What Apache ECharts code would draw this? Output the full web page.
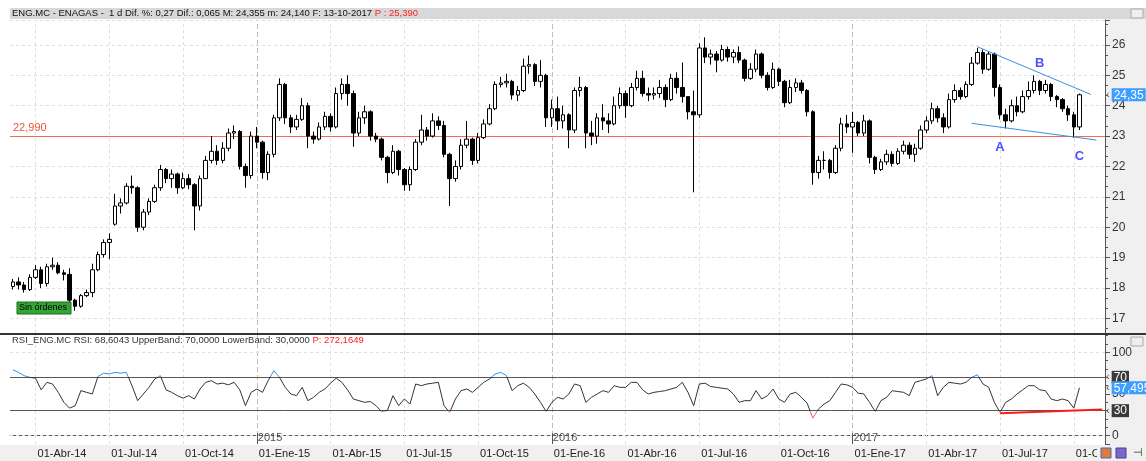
<!DOCTYPE html>
<html>
<head>
<meta charset="utf-8">
<script src="https://cdn.jsdelivr.net/npm/echarts@6/dist/echarts.min.js"></script>
<style>
  html, body { margin: 0; padding: 0; background: #fff; }
  #grafico { width: 1146px; height: 461px; }
</style>
</head>
<body>
<div id="grafico"></div>
<script>
// Velas semanales de ENAGAS [apertura, cierre, mínimo, máximo]
const velas2014 = [
  [18.05, 18.2, 17.95, 18.3], [18.2, 18.1, 17.95, 18.35], [18.1, 17.95, 17.85, 18.2], [17.95, 18.35, 17.9, 18.45],
  [18.35, 18.6, 18.3, 18.75], [18.6, 18.15, 18.0, 18.7], [18.15, 18.7, 18.05, 18.8], [18.7, 18.75, 18.6, 19.0],
  [18.75, 18.5, 18.45, 18.85], [18.5, 18.45, 18.25, 18.6], [18.45, 17.6, 17.5, 18.65], [17.6, 17.4, 17.25, 17.65],
  [17.4, 17.75, 17.35, 17.8], [17.75, 17.85, 17.7, 17.95], [17.85, 18.6, 17.7, 18.8], [18.6, 19.1, 18.55, 19.2],
  [19.1, 19.5, 19.0, 19.6], [19.5, 19.6, 18.95, 19.8], [20.1, 20.7, 20.05, 21.1], [20.7, 20.8, 20.45, 20.95],
  [20.8, 21.35, 20.75, 21.45], [21.35, 21.3, 21.1, 21.7], [21.3, 20.0, 19.85, 21.35], [20.0, 20.5, 19.9, 20.6],
  [20.5, 20.85, 20.4, 20.95], [20.85, 21.3, 20.8, 21.4], [21.3, 21.9, 21.2, 22.05], [21.9, 21.6, 21.45, 21.95],
  [21.6, 21.75, 21.3, 21.9], [21.75, 21.3, 21.1, 21.8], [21.3, 21.6, 21.25, 21.8], [21.6, 21.4, 21.25, 21.75],
  [21.4, 20.7, 19.9, 21.45], [20.7, 21.6, 20.55, 21.7], [21.6, 22.2, 21.6, 22.35], [22.2, 22.5, 22.1, 23.0],
  [22.5, 22.2, 22.05, 22.7], [22.2, 22.6, 22.1, 22.8], [22.6, 23.1, 22.5, 23.25], [23.1, 23.15, 22.9, 23.35],
  [23.15, 22.0, 21.9, 23.2], [22.0, 21.7, 21.3, 22.1], [21.7, 23.0, 21.6, 23.15], [23.0, 22.8, 22.6, 23.3]
];
const velas2015 = [
  [22.8, 21.8, 21.6, 22.85], [21.8, 22.4, 21.55, 22.5], [22.4, 23.6, 22.3, 23.7], [23.6, 24.7, 23.5, 24.9],
  [24.7, 23.6, 23.4, 24.75], [23.6, 23.3, 23.1, 23.7], [23.3, 23.55, 23.2, 23.7], [23.55, 24.0, 23.5, 24.25],
  [24.0, 23.0, 22.6, 24.1], [23.0, 22.9, 22.75, 23.15], [22.9, 23.3, 22.85, 23.45], [23.3, 23.65, 23.2, 23.8],
  [23.65, 23.3, 23.15, 23.75], [23.3, 24.4, 23.25, 24.6], [24.4, 24.7, 24.2, 24.9], [24.7, 24.4, 24.0, 25.0],
  [24.4, 23.1, 22.65, 24.5], [23.1, 23.6, 23.0, 23.8], [23.6, 23.8, 23.4, 24.0], [23.8, 23.0, 22.85, 23.85],
  [23.0, 22.9, 22.8, 23.1], [22.9, 22.3, 22.2, 22.95], [22.3, 21.8, 21.45, 22.35], [21.8, 22.5, 21.75, 22.7],
  [22.5, 21.9, 21.7, 22.55], [21.9, 21.4, 21.2, 21.95], [21.4, 21.9, 21.2, 22.0], [21.9, 22.8, 21.85, 22.9],
  [22.8, 23.2, 22.7, 23.7], [23.2, 23.0, 22.85, 23.3], [23.0, 23.5, 22.95, 23.75], [23.5, 23.35, 23.2, 23.65],
  [23.35, 22.4, 22.3, 23.5], [22.4, 21.6, 20.7, 22.45], [21.6, 22.0, 21.5, 22.2], [22.0, 22.7, 21.9, 22.9],
  [22.7, 22.9, 22.6, 23.5], [22.9, 22.2, 22.05, 22.95], [22.2, 22.95, 22.1, 23.1], [22.95, 23.4, 22.9, 23.55],
  [23.4, 23.9, 23.35, 24.05], [23.9, 24.7, 23.85, 24.8], [24.7, 24.75, 24.6, 24.95], [24.75, 24.8, 24.6, 25.05],
  [24.8, 24.35, 24.2, 24.85], [24.35, 24.5, 24.15, 24.65], [24.5, 25.3, 24.45, 25.55], [25.3, 25.35, 25.05, 25.65],
  [25.35, 24.8, 24.65, 25.4], [24.8, 25.0, 24.6, 25.5], [25.0, 23.6, 23.3, 25.05], [23.6, 23.9, 23.3, 24.2]
];
const velas2016 = [
  [23.9, 23.5, 23.2, 24.3], [23.5, 23.7, 23.25, 24.0], [23.7, 23.2, 22.6, 23.75], [23.2, 24.5, 23.1, 24.6],
  [24.5, 24.6, 24.3, 24.95], [24.6, 23.1, 22.6, 24.65], [23.1, 23.0, 22.7, 23.5], [23.0, 23.6, 22.75, 23.75],
  [23.6, 23.5, 23.2, 24.05], [23.5, 23.4, 23.1, 23.75], [23.4, 24.0, 23.35, 24.3], [24.0, 24.4, 23.9, 24.6],
  [24.4, 24.0, 23.6, 24.5], [24.0, 24.6, 23.95, 24.75], [24.6, 24.9, 24.5, 25.15], [24.9, 24.4, 24.3, 25.15],
  [24.4, 24.35, 24.15, 24.6], [24.35, 24.4, 24.2, 24.6], [24.4, 24.6, 24.25, 24.85], [24.6, 24.2, 23.95, 24.7],
  [24.2, 24.9, 24.15, 25.05], [24.9, 24.6, 24.4, 25.1], [24.6, 24.3, 24.1, 25.42], [24.3, 23.8, 23.55, 24.3],
  [23.8, 23.7, 21.15, 24.5], [23.7, 25.9, 23.6, 26.05], [25.9, 25.6, 25.4, 26.25], [25.6, 25.7, 25.35, 25.85],
  [25.7, 25.5, 25.1, 25.8], [25.5, 25.85, 25.45, 26.0], [25.85, 25.6, 25.45, 25.95], [25.6, 25.75, 25.4, 25.85],
  [25.75, 25.5, 25.4, 25.95], [25.5, 24.9, 24.8, 25.55], [24.9, 25.2, 24.85, 25.4], [25.2, 25.7, 25.1, 25.85],
  [25.7, 25.0, 24.9, 25.75], [25.0, 24.6, 24.5, 25.1], [24.6, 25.2, 24.55, 25.42], [25.2, 24.8, 24.65, 25.25],
  [24.8, 24.1, 23.95, 24.85], [24.1, 24.6, 24.05, 24.85], [24.6, 24.75, 24.45, 24.9], [24.75, 24.5, 24.4, 24.85],
  [24.5, 23.8, 23.65, 24.55], [23.8, 21.8, 21.4, 23.85], [21.8, 22.2, 21.6, 22.35], [22.2, 22.2, 21.9, 22.5],
  [22.2, 21.8, 21.6, 22.25], [21.8, 22.6, 21.75, 22.7], [22.6, 23.4, 22.5, 23.6], [23.4, 23.3, 23.1, 23.7]
];
const velas2017 = [
  [23.3, 23.45, 22.45, 23.8], [23.45, 23.1, 23.0, 23.5], [23.1, 23.5, 23.0, 23.7], [23.5, 22.3, 22.1, 23.55],
  [22.3, 21.9, 21.75, 22.35], [21.9, 22.15, 21.85, 22.25], [22.15, 22.4, 22.05, 22.55], [22.4, 22.1, 22.0, 22.5],
  [22.1, 22.5, 22.05, 22.6], [22.5, 22.7, 22.4, 22.85], [22.7, 22.4, 22.25, 22.8], [22.4, 22.6, 22.15, 22.75],
  [22.6, 23.2, 22.55, 23.35], [23.2, 23.5, 23.1, 23.65], [23.5, 23.9, 23.4, 24.1], [23.9, 23.6, 23.45, 24.0],
  [23.6, 23.3, 23.1, 23.75], [23.3, 24.2, 23.25, 24.4], [24.2, 24.5, 24.1, 24.7], [24.5, 24.3, 24.2, 24.6],
  [24.3, 24.7, 24.25, 24.8], [24.7, 25.4, 24.65, 25.6], [25.4, 25.75, 25.35, 25.9], [25.75, 25.2, 25.05, 25.85],
  [25.2, 25.7, 25.15, 25.8], [25.7, 24.6, 24.3, 25.75], [24.6, 23.7, 23.55, 24.7], [23.7, 23.5, 23.25, 23.9],
  [23.5, 24.0, 23.45, 24.2], [24.0, 23.8, 23.65, 24.3], [23.8, 24.3, 23.75, 24.5], [24.3, 24.5, 24.2, 24.8],
  [24.5, 24.8, 24.4, 25.0], [24.8, 24.5, 24.35, 24.85], [24.5, 24.7, 24.4, 24.85], [24.7, 24.3, 24.15, 24.75],
  [24.3, 24.2, 23.95, 24.35], [24.2, 23.9, 23.8, 24.25], [23.9, 23.7, 23.5, 24.0], [23.7, 23.3, 22.95, 23.8],
  [23.3, 24.36, 23.2, 24.4]
];

// RSI semanal
const rsi2014 = [79, 76, 72, 70, 69, 55, 64, 62, 52, 40, 33, 36, 54, 52, 50, 71, 75, 74, 76, 75, 76, 60, 42, 50, 58, 68, 72, 55, 52, 48, 45, 48, 44, 56, 64, 66, 62, 63, 61, 64, 55, 36, 52, 56];
const rsi2015 = [52, 66, 78, 70, 58, 50, 48, 58, 42, 46, 52, 56, 63, 69, 64, 55, 44, 42, 40, 41, 36, 29, 30, 48, 36, 44, 38, 62, 60, 62, 63, 64, 36, 28, 44, 54, 56, 52, 58, 64, 68, 74, 76, 72, 54, 60, 63, 58, 50, 40, 29, 40];
const rsi2016 = [46, 44, 50, 62, 60, 40, 46, 50, 54, 52, 60, 58, 58, 64, 64, 55, 50, 52, 53, 54, 56, 58, 64, 52, 36, 62, 63, 59, 58, 57, 56, 50, 40, 42, 42, 54, 44, 48, 56, 44, 40, 50, 52, 46, 39, 21, 32, 38, 42, 52, 62, 61];
const rsi2017 = [58, 51, 50, 40, 29, 42, 46, 54, 53, 52, 48, 64, 66, 68, 72, 48, 58, 64, 63, 62, 64, 70, 73, 62, 58, 40, 28, 40, 44, 50, 55, 60, 60, 55, 54, 44, 42, 44, 42, 33, 57.5];

// Etiquetas del eje temporal y años
const etiquetasEje = ['01-Abr-14', '01-Jul-14', '01-Oct-14', '01-Ene-15', '01-Abr-15', '01-Jul-15', '01-Oct-15',
  '01-Ene-16', '01-Abr-16', '01-Jul-16', '01-Oct-16', '01-Ene-17', '01-Abr-17', '01-Jul-17', '01-Oct-17'];
const etiquetasAnio = ['2015', '2016', '2017'];

// Niveles y líneas dibujadas (índice de semana, valor)
const soporte = 22.99;
const ultimoPrecio = 24.355;
const ultimoRsi = 57.495;
const bandasRsi = [70, 30];
const tendenciaSup = [[170, 25.94], [190, 24.37]];
const tendenciaInf = [[169, 23.42], [191, 22.87]];
const tendenciaRsi = [[174, 27], [192, 31.5]];
const puntosABC = [[174, 22.63, 'A'], [181, 25.39, 'B'], [188, 22.34, 'C']];

const FUENTE = '"Liberation Sans", Arial, sans-serif';
const DIA = 86400000;
const velas = velas2014.concat(velas2015, velas2016, velas2017);
const rsi = rsi2014.concat(rsi2015, rsi2016, rsi2017);

// Semanas (lunes) desde el 3-3-2014, con 4 semanas vacías al final
const inicio = Date.UTC(2014, 2, 3);
const semanas = [];
for (let k = 0; k < velas.length + 4; k++) {
  semanas.push(new Date(inicio + k * 7 * DIA).toISOString().slice(0, 10));
}

const mesesEs = { Ene: 0, Abr: 3, Jul: 6, Oct: 9 };
function indiceSemana(etiqueta) {
  const [d, m, a] = etiqueta.split('-');
  let t = Date.UTC(2000 + Number(a), mesesEs[m], Number(d));
  while ([0, 6].includes(new Date(t).getUTCDay())) t += DIA;
  return Math.floor((t - inicio) / (7 * DIA));
}
const etiquetaPorIndice = {};
etiquetasEje.forEach(e => { etiquetaPorIndice[indiceSemana(e)] = e; });
const indicesAnio = etiquetasAnio.map(a => indiceSemana('01-Ene-' + a.slice(2)));
const esEtiqueta = (i) => etiquetaPorIndice[i] !== undefined;

const lineasVerticales = Object.keys(etiquetaPorIndice).map(Number).map(i => ({
  xAxis: semanas[i],
  lineStyle: indicesAnio.includes(i)
    ? { color: '#bdbdbd', type: [5, 3], width: 1 }
    : { color: '#dedede', type: [3, 3], width: 1 }
}));

const pares = (lista) => lista.map(p => [semanas[p[0]], p[1]]);

// Etiqueta con flecha y caja de color, al final de una línea invisible
function etiquetaEje(texto, fondo) {
  return {
    show: true, position: 'end', distance: 1, formatter: '{f|‹}{c|' + texto + '}',
    rich: {
      f: { color: '#555', fontSize: 11, padding: [0, 2, 0, 0] },
      c: { color: '#fff', backgroundColor: fondo, fontSize: 12, padding: [1, 2, 0, 2] }
    }
  };
}

const grafico = echarts.init(document.getElementById('grafico'));

const opcion = {
  animation: false,
  backgroundColor: '#fff',
  textStyle: { fontFamily: FUENTE },
  title: [
    {
      left: 12, top: 8, padding: 0,
      text: '{a|ENG.MC - ENAGAS -  1 d Dif. %: 0,27 Dif.: 0,065 M: 24,355 m: 24,140 F: 13-10-2017 }{b|P : 25,390}',
      textStyle: { fontWeight: 'normal', rich: {
        a: { fontSize: 9.5, color: '#111', fontWeight: 'normal', fontFamily: FUENTE },
        b: { fontSize: 9.5, color: '#ff2020', fontWeight: 'normal', fontFamily: FUENTE }
      } }
    },
    {
      left: 12, top: 335, padding: 0,
      text: '{a|RSI_ENG.MC RSI: 68,6043 UpperBand: 70,0000 LowerBand: 30,0000 }{b|P: 272,1649}',
      textStyle: { fontWeight: 'normal', rich: {
        a: { fontSize: 9.5, color: '#333', fontWeight: 'normal', fontFamily: FUENTE },
        b: { fontSize: 9.5, color: '#ff2020', fontWeight: 'normal', fontFamily: FUENTE }
      } }
    }
  ],
  grid: [
    { left: 10, right: 41, top: 20, bottom: 128 },
    { left: 10, right: 41, top: 334, bottom: 17 }
  ],
  xAxis: [
    {
      type: 'category', gridIndex: 0, data: semanas, boundaryGap: true,
      axisLine: { show: false }, axisTick: { show: false }, axisLabel: { show: false }, splitLine: { show: false }
    },
    {
      type: 'category', gridIndex: 1, data: semanas, boundaryGap: true,
      axisLine: { lineStyle: { color: '#555' } },
      axisTick: { alignWithLabel: true, interval: esEtiqueta, length: 7, lineStyle: { color: '#555' } },
      axisLabel: {
        interval: esEtiqueta, formatter: (v, i) => etiquetaPorIndice[i] || '',
        align: 'left', margin: 4, padding: [0, 0, 0, 2], color: '#222', fontSize: 11, fontFamily: FUENTE
      },
      splitLine: { show: false }
    }
  ],
  yAxis: [
    {
      type: 'value', gridIndex: 0, position: 'right', min: 16.52, max: 26.82, splitNumber: 10,
      axisLine: { show: true, lineStyle: { color: '#555' } },
      axisTick: { show: true, length: 5, lineStyle: { color: '#555' } },
      minorTick: { show: true, splitNumber: 3, length: 3, lineStyle: { color: '#555' } },
      axisLabel: { showMinLabel: false, showMaxLabel: false, color: '#333', fontSize: 12, margin: 7, fontFamily: FUENTE },
      splitLine: { show: true, lineStyle: { color: '#dedede', type: [3, 3] } }
    },
    {
      type: 'value', gridIndex: 1, position: 'right', min: -10, max: 122, splitNumber: 3,
      axisLine: { show: true, lineStyle: { color: '#555' } },
      axisTick: { show: true, length: 5, lineStyle: { color: '#555' } },
      minorTick: { show: true, splitNumber: 5, length: 3, lineStyle: { color: '#555' } },
      axisLabel: { showMinLabel: false, showMaxLabel: false, color: '#333', fontSize: 12, margin: 7, fontFamily: FUENTE },
      splitLine: { show: false }
    }
  ],
  visualMap: {
    show: false, type: 'piecewise', seriesIndex: 4, dimension: 1,
    pieces: [
      { gt: 70, color: '#2f8ff0' },
      { lt: 30, color: '#f06060' },
      { gte: 30, lte: 70, color: '#333' }
    ]
  },
  series: [
    {
      type: 'candlestick', xAxisIndex: 0, yAxisIndex: 0, data: velas, barWidth: 4,
      itemStyle: { color: '#fff', color0: '#000', borderColor: '#000', borderColor0: '#000', borderWidth: 1 },
      markLine: {
        silent: true, symbol: 'none', z: 1,
        label: { show: false },
        data: lineasVerticales.concat([
          {
            yAxis: soporte, lineStyle: { color: '#f36e50', type: 'solid', width: 1 },
            label: { show: true, position: 'insideStartTop', formatter: '22,990', color: '#e8553a', fontSize: 11, distance: 3 }
          },
          {
            yAxis: ultimoPrecio, lineStyle: { color: 'rgba(0,0,0,0)', width: 0 },
            label: etiquetaEje('24,35', '#3d9eff')
          }
        ])
      }
    },
    {
      type: 'line', xAxisIndex: 0, yAxisIndex: 0, data: pares(tendenciaSup), showSymbol: false, silent: true,
      lineStyle: { color: '#3b8fe0', width: 1 }
    },
    {
      type: 'line', xAxisIndex: 0, yAxisIndex: 0, data: pares(tendenciaInf), showSymbol: false, silent: true,
      lineStyle: { color: '#3b8fe0', width: 1 }
    },
    {
      type: 'scatter', xAxisIndex: 0, yAxisIndex: 0, symbolSize: 0, silent: true,
      data: puntosABC.map(p => [semanas[p[0]], p[1], p[2]]),
      label: { show: true, position: 'inside', formatter: (p) => p.data[2], color: '#2323ff', fontSize: 13, fontWeight: 'bold' }
    },
    {
      type: 'line', xAxisIndex: 1, yAxisIndex: 1, data: rsi, showSymbol: false, silent: true,
      lineStyle: { width: 1 },
      markLine: {
        silent: true, symbol: 'none', z: 1,
        label: { show: false },
        data: lineasVerticales.concat(
          [0, 100].map(v => ({ yAxis: v, lineStyle: { color: '#dedede', type: [3, 3], width: 1 } })),
          bandasRsi.map(v => ({
            yAxis: v, lineStyle: { color: '#555', type: 'solid', width: 1 },
            label: etiquetaEje(String(v), '#3a3a3a')
          })),
          [{
            yAxis: ultimoRsi, lineStyle: { color: 'rgba(0,0,0,0)', width: 0 },
            label: etiquetaEje('57,495', '#3d9eff')
          }],
          indicesAnio.map(i => [
            { coord: [semanas[i], -10], lineStyle: { color: '#555', type: 'solid', width: 1 } },
            { coord: [semanas[i], 3] }
          ])
        )
      }
    },
    {
      type: 'line', xAxisIndex: 1, yAxisIndex: 1, data: pares(tendenciaRsi), showSymbol: false, silent: true,
      lineStyle: { color: '#ff1a1a', width: 2 }
    },
    {
      type: 'scatter', xAxisIndex: 1, yAxisIndex: 1, symbolSize: 0, silent: true,
      data: indicesAnio.map((i, k) => [semanas[i], 0, etiquetasAnio[k]]),
      label: { show: true, position: 'right', distance: 1, offset: [0, 2], formatter: (p) => p.data[2], color: '#222', fontSize: 11 }
    }
  ],
  graphic: [
    { type: 'rect', z: -5, shape: { x: 10, y: 8, width: 1136, height: 11 }, style: { fill: '#d8d8d8' } },
    { type: 'rect', z: -5, shape: { x: 1105, y: 19, width: 41, height: 442 }, style: { fill: '#f0f0f0' } },
    { type: 'rect', z: -5, shape: { x: 0, y: 445, width: 1146, height: 16 }, style: { fill: '#f0f0f0' } },
    { type: 'rect', z: 50, shape: { x: 0, y: 333, width: 1146, height: 2 }, style: { fill: '#333' } },
    { type: 'rect', z: 50, shape: { x: 1131, y: 9, width: 12, height: 9 }, style: { fill: '#eee', stroke: '#aaa', lineWidth: 1 } },
    { type: 'rect', z: 50, shape: { x: 1131, y: 337, width: 12, height: 9 }, style: { fill: '#eee', stroke: '#aaa', lineWidth: 1 } },
    { type: 'rect', z: 50, shape: { x: 17, y: 302, width: 54, height: 12 }, style: { fill: '#34a534', stroke: '#1d6b1d', lineWidth: 1 } },
    { type: 'text', z: 51, style: { x: 19, y: 303, text: 'Sin órdenes', fill: '#000', font: '9px ' + FUENTE } },
    { type: 'rect', z: 50, shape: { x: 1097, y: 446, width: 49, height: 15 }, style: { fill: '#f0f0f0' } },
    { type: 'rect', z: 51, shape: { x: 1101, y: 448, width: 10, height: 10 }, style: { fill: '#e07a3a', stroke: '#3a70c0', lineWidth: 1 } },
    { type: 'rect', z: 51, shape: { x: 1116, y: 448, width: 10, height: 10 }, style: { fill: '#7a68c8', stroke: '#4b3c98', lineWidth: 1 } },
    { type: 'text', z: 51, style: { x: 1133, y: 447, text: '⊣', fill: '#333', font: '11px ' + FUENTE } }
  ]
};

grafico.setOption(opcion);
</script>
</body>
</html>
